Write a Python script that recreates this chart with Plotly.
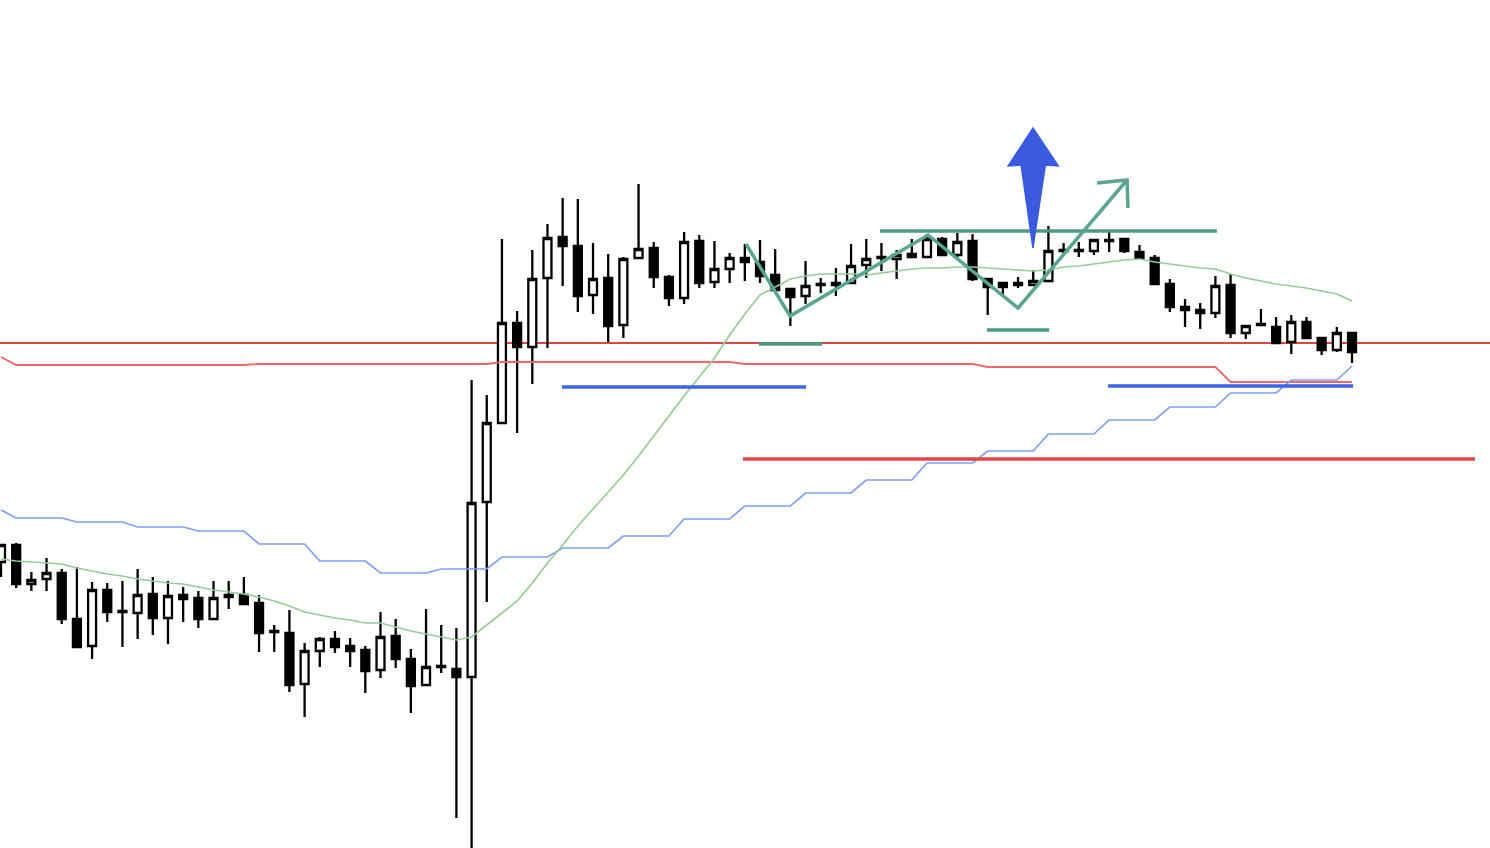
import plotly.graph_objects as go

# Candle data (price units), one entry per bar
opens = [286, 303, 264, 269, 275, 229, 202, 258, 237, 235, 254, 230, 253, 250, 229, 253, 253, 245, 217, 215,
         164, 197, 209, 202, 198, 178, 212, 189, 163, 182, 179, 171, 346, 425, 525, 501, 570, 611, 602, 553,
         570, 523, 590, 600, 571, 550, 607, 566, 579, 590, 586, 573, 559, 552, 564, 565, 565, 583, 591, 589,
         594, 591, 609, 593, 607, 569, 565, 565, 563, 567, 598, 598, 597, 608, 609, 596, 590, 564, 541, 538,
         535, 563, 515, 524, 521, 506, 526, 510, 498, 515]
highs = [304, 305, 276, 290, 279, 281, 266, 265, 267, 279, 271, 267, 261, 257, 267, 267, 271, 253, 223, 238,
         205, 211, 217, 210, 202, 236, 229, 199, 239, 223, 220, 468, 453, 609, 537, 598, 624, 650, 649, 605,
         594, 591, 664, 606, 573, 616, 613, 607, 595, 604, 608, 599, 560, 587, 570, 580, 604, 609, 605, 598,
         609, 614, 611, 615, 614, 569, 565, 571, 578, 622, 605, 606, 608, 616, 609, 603, 593, 569, 549, 545,
         572, 574, 522, 539, 531, 533, 531, 510, 521, 515]
lows = [271, 260, 257, 257, 224, 201, 189, 226, 201, 209, 213, 204, 226, 220, 229, 239, 243, 196, 196, 156,
        131, 181, 195, 181, 155, 170, 180, 135, 163, 175, 30, -8, 246, 425, 415, 464, 500, 562, 536, 534,
        506, 510, 589, 560, 542, 544, 560, 560, 565, 567, 565, 557, 522, 544, 555, 552, 565, 570, 577, 569,
        591, 591, 593, 591, 567, 533, 553, 560, 563, 567, 593, 591, 593, 596, 595, 590, 564, 536, 521, 519,
        530, 510, 509, 523, 505, 494, 510, 493, 496, 485]
closes = [303, 264, 268, 275, 229, 201, 258, 236, 236, 253, 230, 252, 249, 229, 250, 251, 244, 215, 216, 163,
          197, 209, 201, 197, 177, 211, 189, 162, 181, 181, 171, 345, 425, 525, 501, 569, 610, 602, 552, 569,
          522, 589, 599, 571, 550, 606, 565, 579, 590, 586, 572, 558, 551, 562, 563, 563, 582, 589, 590, 593,
          591, 609, 593, 606, 569, 561, 561, 563, 567, 597, 597, 597, 608, 607, 597, 590, 564, 541, 538, 535,
          562, 515, 522, 523, 505, 526, 510, 498, 515, 496]

# Moving average (green)
ma_line = [289, 287, 286, 285, 284, 280, 277, 274, 272, 269, 267, 265, 264, 261, 258, 256, 254, 251, 247, 242,
           236, 233, 230, 228, 225, 225, 221, 217, 214, 211, 208, 211, 223, 235, 247, 265, 285, 303, 322, 339,
           356, 373, 392, 412, 433, 452, 471, 490, 513, 534, 553, 561, 569, 572, 574, 574, 574, 573, 575, 577,
           579, 580, 580, 581, 581, 580, 579, 578, 577, 578, 581, 582, 584, 586, 588, 589, 586, 584, 582, 580,
           579, 574, 570, 567, 564, 562, 560, 557, 554, 547]

# Base line (light blue, stepped)
base_line = [338, 330, 330, 330, 330, 326, 326, 326, 326, 321, 321, 321, 321, 317, 317, 317, 317, 304, 304, 304,
             304, 287, 287, 287, 287, 275, 275, 275, 275, 279, 279, 279, 279, 291, 291, 291, 291, 300, 300, 300,
             300, 312, 312, 312, 312, 329, 329, 329, 329, 342, 342, 342, 342, 355, 355, 355, 355, 368, 368, 368,
             368, 385, 385, 385, 385, 397, 397, 397, 397, 414, 414, 414, 414, 428, 428, 428, 428, 441, 441, 441,
             441, 455, 455, 455, 455, 468, 468, 468, 468, 482]

# Upper band (salmon, stepped)
band_line = [491] + [483] * 16 + [484] * 16 + [486] * 16 + [484] * 16 + [481] * 16 + [466] * 9

# Drawn levels: (value, start bar, end bar)
level_red_full = 505
level_red_thick = (389, 48.88, 97.1)
levels_blue = [(461, 36.96, 53.03), (462, 72.93, 89.07)]
levels_teal = [(617, 57.9, 80.1), (504, 49.93, 54.08), (518, 64.95, 69.04)]
zigzag_x = [49.08, 51.98, 61.07, 67.0, 74.18]
zigzag_y = [604, 532, 613, 540, 668]
arrowhead_x = [72.2, 74.18, 74.24]
arrowhead_y = [665, 668, 640]
blue_arrow_x = [67.98, 69.65, 68.8, 67.98, 67.2, 66.35]
blue_arrow_y = [720, 682, 683, 600, 683, 682]

idx = list(range(len(opens)))

fig = go.Figure()
fig.add_trace(go.Scatter(x=idx, y=band_line, mode="lines", line=dict(color="#ee6666", width=1.8), hoverinfo="skip"))
fig.add_trace(go.Scatter(x=idx, y=base_line, mode="lines", line=dict(color="#7f9ef5", width=1.7), hoverinfo="skip"))
fig.add_trace(go.Scatter(x=idx, y=ma_line, mode="lines", line=dict(color="#97cc94", width=1.7), hoverinfo="skip"))
fig.add_trace(go.Candlestick(
    x=idx, open=opens, high=highs, low=lows, close=closes,
    increasing=dict(line=dict(color="black", width=2.3), fillcolor="white"),
    decreasing=dict(line=dict(color="black", width=2.3), fillcolor="black"),
    whiskerwidth=0, hoverinfo="skip"))

shapes = []
shapes.append(dict(type="line", xref="paper", x0=0, x1=1, y0=level_red_full, y1=level_red_full,
                   line=dict(color="#dc4646", width=1.8), layer="below"))
v, a, b = level_red_thick
shapes.append(dict(type="line", x0=a, x1=b, y0=v, y1=v, line=dict(color="#e04646", width=3.5)))
for v, a, b in levels_blue:
    shapes.append(dict(type="line", x0=a, x1=b, y0=v, y1=v, line=dict(color="#3b63e6", width=3.5)))
for v, a, b in levels_teal:
    shapes.append(dict(type="line", x0=a, x1=b, y0=v, y1=v, line=dict(color="#4b9a84", width=3.5)))

zig_path = "M " + " L ".join(f"{x},{y}" for x, y in zip(zigzag_x, zigzag_y))
shapes.append(dict(type="path", path=zig_path, line=dict(color="#58a692", width=3.5)))
head_path = "M " + " L ".join(f"{x},{y}" for x, y in zip(arrowhead_x, arrowhead_y))
shapes.append(dict(type="path", path=head_path, line=dict(color="#58a692", width=3.5)))
arrow_path = "M " + " L ".join(f"{x},{y}" for x, y in zip(blue_arrow_x, blue_arrow_y)) + " Z"
shapes.append(dict(type="path", path=arrow_path, fillcolor="#3a5be0", line=dict(color="#3a5be0", width=1.5)))

fig.update_layout(
    width=1490, height=848, margin=dict(l=0, r=0, t=0, b=0),
    paper_bgcolor="white", plot_bgcolor="white", showlegend=False,
    xaxis=dict(range=[-0.066, 98.09], visible=False, rangeslider=dict(visible=False), fixedrange=True),
    yaxis=dict(range=[0, 848], visible=False, fixedrange=True),
    shapes=shapes, boxgap=0.25,
)
fig.write_html("out.html", config={"displayModeBar": False},
               post_script="document.body.style.margin='0px';document.body.style.overflow='hidden';")
